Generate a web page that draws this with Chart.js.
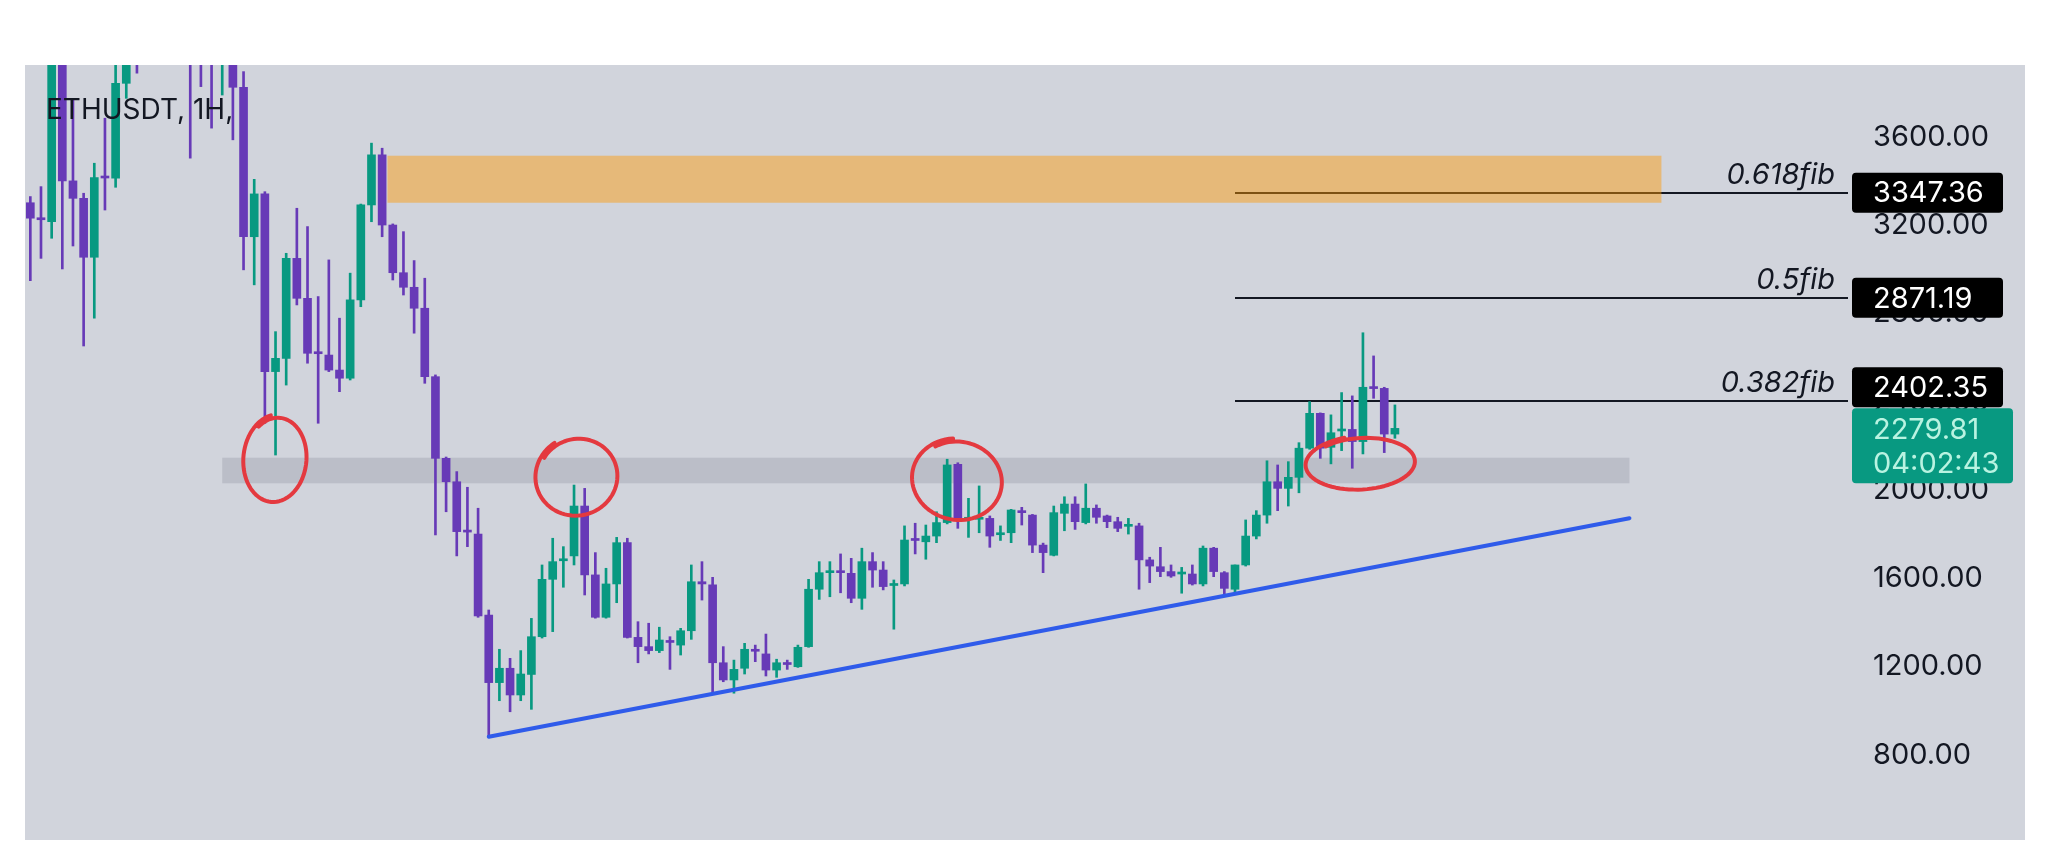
<!DOCTYPE html>
<html>
<head>
<meta charset="utf-8">
<script src="https://cdn.jsdelivr.net/npm/chart.js@4.4.1/dist/chart.umd.min.js"></script>
<style>
  html, body { margin: 0; padding: 0; background: #ffffff; }
  #panel { position: absolute; left: 25px; top: 65px; width: 2000px; height: 775px; background: #d1d4dc; }
</style>
</head>
<body>
<div id="panel"><canvas id="myChart" width="2000" height="775"></canvas></div>
<script>
const opens = [3302, 3230, 3216, 4050, 3401, 3322, 3055, 3420, 3413, 3843,
  4100, 4050, 4100, 4050, 4080, 4050, 4050, 4020, 3950, 3990,
  3825, 3148, 3342, 2537, 2597, 3050, 2869, 2625, 2612, 2544,
  2507, 2862, 3292, 3519, 3201, 2985, 2919, 2824, 2514, 2144,
  2038, 1815, 1801, 1434, 1128, 1193, 1072, 1165, 1336, 1596,
  1680, 1702, 1928, 1616, 1424, 1575, 1762, 1333, 1291, 1273,
  1317, 1298, 1363, 1585, 1571, 1218, 1140, 1193, 1276, 1258,
  1185, 1215, 1200, 1291, 1551, 1626, 1632, 1623, 1510, 1676,
  1638, 1568, 1575, 1778, 1766, 1792, 1853, 2117, 1868, 1868,
  1872, 1798, 1807, 1905, 1887, 1751, 1705, 1895, 1937, 1853,
  1918, 1883, 1857, 1836, 1838, 1684, 1653, 1631, 1620, 1620,
  1575, 1737, 1626, 1551, 1661, 1792, 1887, 2038, 2008, 2058,
  2190, 2348, 2194, 2268, 2275, 2220, 2466, 2461, 2254];
const highs = [3330, 3375, 4100, 4100, 3768, 3345, 3481, 3685, 3990, 4050,
  4150, 4150, 4200, 4150, 4150, 4100, 4100, 4080, 4100, 4050,
  3896, 3408, 3352, 2718, 3073, 3277, 3194, 2877, 3043, 2779,
  2983, 3296, 3572, 3549, 3206, 3171, 3040, 2960, 2522, 2150,
  2084, 2013, 1918, 1457, 1279, 1238, 1273, 1419, 1661, 1782,
  1744, 2023, 2008, 1717, 1646, 1786, 1782, 1404, 1397, 1379,
  1336, 1374, 1661, 1676, 1605, 1291, 1230, 1306, 1298, 1348,
  1234, 1230, 1298, 1596, 1676, 1676, 1711, 1691, 1737, 1717,
  1676, 1593, 1838, 1850, 1842, 1902, 2140, 2124, 1963, 2019,
  1883, 1838, 1913, 1922, 1890, 1760, 1928, 1970, 1970, 2028,
  1933, 1887, 1877, 1872, 1850, 1696, 1741, 1661, 1650, 1661,
  1747, 1741, 1631, 1661, 1865, 1907, 2133, 2114, 2129, 2215,
  2401, 2350, 2341, 2442, 2427, 2713, 2608, 2466, 2386];
const lows = [2949, 3050, 3141, 3002, 3106, 2653, 2779, 3269, 3372, 3775,
  3889, 3980, 4000, 3990, 3940, 3504, 3828, 3640, 3790, 3587,
  2998, 2930, 2303, 2159, 2476, 2839, 2575, 2303, 2537, 2446,
  2499, 2831, 3216, 3148, 2952, 2884, 2711, 2484, 1797, 1902,
  1702, 1744, 1424, 883, 1046, 996, 1046, 1007, 1330, 1359,
  1560, 1661, 1525, 1420, 1420, 1490, 1330, 1218, 1258, 1264,
  1188, 1253, 1324, 1502, 1080, 1132, 1080, 1167, 1223, 1158,
  1152, 1188, 1197, 1288, 1505, 1517, 1535, 1490, 1460, 1560,
  1548, 1370, 1566, 1711, 1687, 1762, 1847, 1827, 1786, 1807,
  1741, 1772, 1762, 1842, 1717, 1626, 1702, 1816, 1822, 1847,
  1850, 1830, 1812, 1801, 1551, 1581, 1608, 1605, 1533, 1570,
  1566, 1608, 1525, 1540, 1656, 1779, 1850, 1907, 1928, 1988,
  2185, 2144, 2119, 2179, 2099, 2164, 2416, 2170, 2235];
const closes = [3232, 3225, 4000, 3401, 3322, 3055, 3416, 3414, 3843, 3990,
  4000, 4100, 4050, 4080, 4020, 3960, 3970, 3950, 4050, 3825,
  3148, 3342, 2537, 2597, 3050, 2869, 2620, 2618, 2544, 2507,
  2862, 3292, 3519, 3201, 2985, 2919, 2824, 2514, 2144, 2038,
  1812, 1810, 1430, 1128, 1193, 1072, 1167, 1336, 1596, 1676,
  1688, 1928, 1616, 1424, 1575, 1762, 1333, 1291, 1273, 1321,
  1310, 1363, 1585, 1575, 1218, 1140, 1188, 1279, 1270, 1185,
  1218, 1210, 1288, 1551, 1626, 1632, 1626, 1510, 1676, 1638,
  1563, 1575, 1774, 1772, 1792, 1853, 2114, 1862, 1874, 1872,
  1792, 1804, 1910, 1898, 1751, 1717, 1898, 1937, 1857, 1918,
  1877, 1857, 1827, 1840, 1684, 1656, 1631, 1611, 1626, 1575,
  1737, 1631, 1555, 1661, 1792, 1887, 2038, 2008, 2058, 2190,
  2348, 2190, 2260, 2275, 2220, 2466, 2460, 2254, 2279.81];

const emptySlots = 42; // blank space right of the last candle
const yTicks = [800, 1200, 1600, 2000, 2400, 2800, 3200, 3600];
const fibLevels = [3347.36, 2871.19, 2402.35];
const fibNames = ['0.618fib', '0.5fib', '0.382fib'];
const fibStart = 113;
const supplyZone = { from: 33.5, to: 153, low: 3302, high: 3515 };
const grayZone = { from: 18, to: 150, low: 2031, high: 2147 };
const trendLine = [[43, 883], [150, 1873]];
// hand drawn circles: candle index, price, radius x/y in px, tilt
const circles = [[23, 2141, 30, 41, 0.1], [51.3, 2062, 39, 37, -0.3], [87, 2046, 43, 38, 0.2], [124.85, 2122, 52, 25, -0.05]];
const countdown = '04:02:43';

const UP = '#089981', DOWN = '#673ab7';
const FONT = 'Inter, "Liberation Sans", sans-serif';
const labels = Array.from({ length: opens.length + emptySlots }, (_, i) => String(i));
const colors = opens.map((o, i) => closes[i] >= o ? UP : DOWN);

function scribble(ctx, cx, cy, rx, ry, rot) {
    ctx.beginPath();
    const n = 80, start = -2.3, sweep = Math.PI * 2 + 0.45;
    for (let k = 0; k <= n; k++) {
        const t = start + sweep * k / n;
        const f = 1 + 0.09 * k / n;
        const x = rx * f * Math.cos(t), y = ry * f * Math.sin(t);
        const px = cx + x * Math.cos(rot) - y * Math.sin(rot);
        const py = cy + x * Math.sin(rot) + y * Math.cos(rot);
        if (k === 0) ctx.moveTo(px, py); else ctx.lineTo(px, py);
    }
    ctx.stroke();
}

const overlay = {
    id: 'overlay',
    beforeDatasetsDraw(chart) {
        const { ctx, chartArea: a, scales: { x, y } } = chart;
        ctx.save();
        ctx.fillStyle = '#bbbec8';
        ctx.fillRect(x.getPixelForValue(grayZone.from), y.getPixelForValue(grayZone.high),
            x.getPixelForValue(grayZone.to) - x.getPixelForValue(grayZone.from),
            y.getPixelForValue(grayZone.low) - y.getPixelForValue(grayZone.high));
        ctx.strokeStyle = '#131722';
        ctx.lineWidth = 2;
        fibLevels.forEach(v => {
            const py = Math.round(y.getPixelForValue(v));
            ctx.beginPath();
            ctx.moveTo(x.getPixelForValue(fibStart), py);
            ctx.lineTo(a.right, py);
            ctx.stroke();
        });
        ctx.fillStyle = 'rgba(255, 152, 0, 0.45)';
        ctx.fillRect(x.getPixelForValue(supplyZone.from), y.getPixelForValue(supplyZone.high),
            x.getPixelForValue(supplyZone.to) - x.getPixelForValue(supplyZone.from),
            y.getPixelForValue(supplyZone.low) - y.getPixelForValue(supplyZone.high));
        ctx.restore();
    },
    afterDatasetsDraw(chart) {
        const { ctx, scales: { x, y } } = chart;
        ctx.save();
        ctx.strokeStyle = '#2f5bea';
        ctx.lineWidth = 4;
        ctx.lineCap = 'round';
        ctx.beginPath();
        ctx.moveTo(x.getPixelForValue(trendLine[0][0]), y.getPixelForValue(trendLine[0][1]));
        ctx.lineTo(x.getPixelForValue(trendLine[1][0]), y.getPixelForValue(trendLine[1][1]));
        ctx.stroke();
        ctx.strokeStyle = '#e4393f';
        ctx.lineWidth = 4;
        ctx.lineJoin = 'round';
        circles.forEach(c => scribble(ctx, x.getPixelForValue(c[0]), y.getPixelForValue(c[1]), c[2], c[3], c[4]));
        ctx.restore();
    },
    afterDraw(chart) {
        const { ctx, chartArea: a, scales: { y } } = chart;
        ctx.save();
        // symbol title
        ctx.fillStyle = '#131722';
        ctx.font = '28px ' + FONT;
        ctx.textBaseline = 'middle';
        ctx.fillText('ETHUSDT, 1H,', 21, 46);
        // fib names
        ctx.font = 'italic 29px ' + FONT;
        ctx.textAlign = 'right';
        ctx.textBaseline = 'alphabetic';
        fibLevels.forEach((v, i) => ctx.fillText(fibNames[i], a.right - 13, Math.round(y.getPixelForValue(v)) - 9));
        // last price box
        const boxX = a.right + 4;
        const last = closes[closes.length - 1];
        const gy = y.getPixelForValue(last);
        const gTop = gy - 20;
        ctx.fillStyle = UP;
        ctx.beginPath();
        ctx.roundRect(boxX, gTop, 161, 75, 4);
        ctx.fill();
        ctx.fillStyle = '#b9f3e1';
        ctx.font = '29px ' + FONT;
        ctx.textAlign = 'left';
        ctx.textBaseline = 'middle';
        ctx.fillText(last.toFixed(2), a.right + 25, gy + 2);
        ctx.fillText(countdown, a.right + 25, gy + 36);
        // fib price boxes
        fibLevels.forEach(v => {
            let cy = y.getPixelForValue(v);
            if (cy + 20 > gTop - 1 && cy - 20 < gTop + 75) cy = gTop - 21;
            ctx.fillStyle = '#000000';
            ctx.beginPath();
            ctx.roundRect(boxX, cy - 20, 151, 40, 4);
            ctx.fill();
            ctx.fillStyle = '#ffffff';
            ctx.fillText(v.toFixed(2), a.right + 25, cy + 1);
        });
        ctx.restore();
    }
};

new Chart(document.getElementById('myChart'), {
    type: 'bar',
    data: {
        labels: labels,
        datasets: [
            {
                label: 'wicks',
                data: lows.map((l, i) => [l, highs[i]]),
                backgroundColor: colors,
                barThickness: 2,
                grouped: false,
                order: 2
            },
            {
                label: 'bodies',
                data: opens.map((o, i) => [o, closes[i]]),
                backgroundColor: colors,
                barThickness: 8,
                minBarLength: 2,
                grouped: false,
                order: 1
            }
        ]
    },
    options: {
        responsive: false,
        animation: false,
        layout: { padding: 0 },
        plugins: {
            legend: { display: false },
            tooltip: { enabled: false }
        },
        scales: {
            x: {
                display: false,
                offset: true
            },
            y: {
                position: 'right',
                min: 415,
                max: 3926,
                grid: { display: false, drawTicks: false },
                border: { display: false },
                ticks: {
                    padding: 25,
                    color: '#131722',
                    font: { family: FONT, size: 29 },
                    callback: v => Number(v).toFixed(2)
                },
                afterBuildTicks: s => { s.ticks = yTicks.map(v => ({ value: v })); },
                afterFit: s => { s.width = 177; s.paddingTop = 0; s.paddingBottom = 0; }
            }
        }
    },
    plugins: [overlay]
});
</script>
</body>
</html>
